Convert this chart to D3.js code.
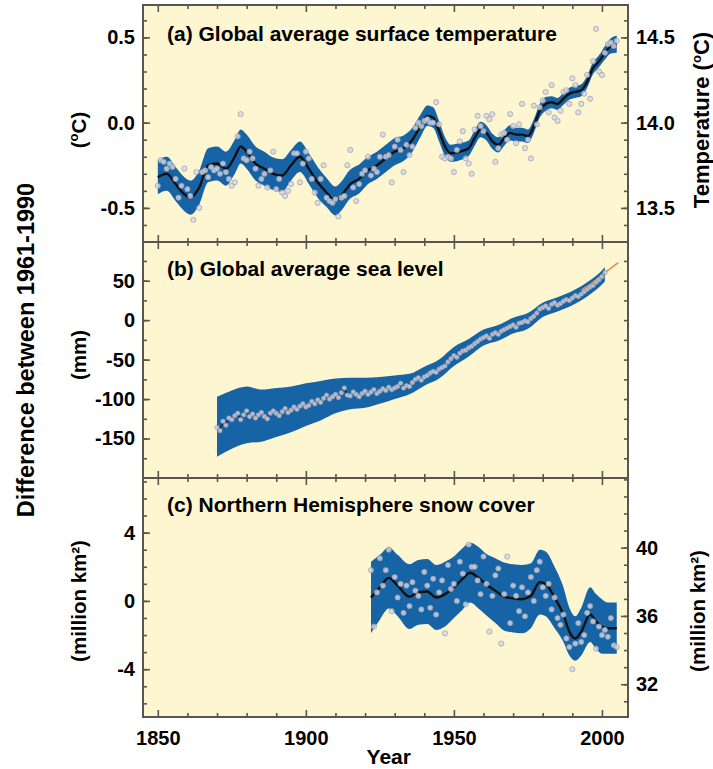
<!DOCTYPE html>
<html>
<head>
<meta charset="utf-8">
<script src="https://cdn.jsdelivr.net/npm/d3@7"></script>
<style>
  body { margin: 0; background: #fff; }
  text { font-family: "Liberation Sans", Arial, sans-serif; font-weight: bold; fill: #000; }
</style>
</head>
<body>
<svg id="chart" width="713" height="769"></svg>
<script>
// ---- data ----

// (a) global average surface temperature, annual anomalies 1850-2005 (degC)
var tempStart = 1850;
var tempAnnual = [
  -0.37,-0.22,-0.23,-0.27,-0.24,-0.26,-0.33,-0.44,-0.37,-0.27,
  -0.39,-0.43,-0.57,-0.29,-0.50,-0.29,-0.28,-0.32,-0.26,-0.28,
  -0.27,-0.30,-0.24,-0.29,-0.33,-0.37,-0.35,-0.08, 0.05,-0.21,
  -0.22,-0.17,-0.21,-0.27,-0.37,-0.33,-0.30,-0.38,-0.28,-0.17,
  -0.39,-0.33,-0.41,-0.43,-0.40,-0.36,-0.18,-0.18,-0.35,-0.24,
  -0.17,-0.21,-0.33,-0.41,-0.47,-0.33,-0.25,-0.44,-0.46,-0.47,
  -0.45,-0.55,-0.44,-0.43,-0.25,-0.16,-0.38,-0.46,-0.36,-0.30,
  -0.28,-0.20,-0.31,-0.27,-0.29,-0.20,-0.07,-0.20,-0.19,-0.35,
  -0.14,-0.10,-0.16,-0.29,-0.13,-0.19,-0.14,-0.03, 0.00,-0.02,
   0.01, 0.02, 0.00, 0.00, 0.12,-0.01,-0.20,-0.21,-0.20,-0.21,
  -0.29,-0.16,-0.11,-0.05,-0.21,-0.24,-0.30,-0.04, 0.04,-0.02,
  -0.05, 0.04, 0.02, 0.05,-0.23,-0.15,-0.07,-0.06,-0.10, 0.05,
  -0.02,-0.12,-0.01, 0.11,-0.15,-0.10,-0.21, 0.10,-0.01, 0.09,
   0.13, 0.18, 0.06, 0.22, 0.03, 0.01, 0.07, 0.18, 0.19, 0.11,
   0.26, 0.22, 0.06, 0.11, 0.17, 0.28, 0.14, 0.36, 0.55, 0.30,
   0.28, 0.41, 0.46, 0.47, 0.45, 0.48
];
// decadal smooth and half width of the uncertainty band
var tempSmoothYears = [1850,1853,1856,1859,1861,1864,1867,1870,1873,1876,
  1878,1880,1883,1886,1889,1892,1895,1898,1901,1904,1907,1910,1912,1915,1918,
  1921,1924,1927,1930,1933,1936,1939,1941,1943,1945,1947,1949,1952,1955,1957,
  1959,1961,1963,1965,1967,1969,1971,1973,1975,1977,1979,1981,1983,1985,1987,
  1989,1991,1993,1995,1997,1999,2001,2003,2005];
var tempSmooth = [-0.32,-0.30,-0.36,-0.42,-0.44,-0.38,-0.25,-0.24,-0.27,-0.20,
  -0.14,-0.17,-0.24,-0.27,-0.30,-0.31,-0.25,-0.20,-0.27,-0.35,
  -0.41,-0.46,-0.43,-0.36,-0.33,-0.28,-0.25,-0.21,-0.17,-0.15,
  -0.10,-0.01, 0.04, 0.03,-0.05,-0.14,-0.18,-0.17,-0.15,-0.09,
  -0.04,-0.06,-0.11,-0.13,-0.09,-0.06,-0.07,-0.07,-0.08,-0.02,
   0.07, 0.11, 0.12, 0.11, 0.14, 0.17, 0.18, 0.19, 0.24, 0.32,
   0.36, 0.41, 0.45, 0.46];
var tempBand = [0.10,0.10,0.10,0.10,0.10,0.10,0.10,0.10,0.10,0.10,
  0.10,0.10,0.10,0.10,0.095,0.095,0.09,0.09,0.09,0.09,
  0.085,0.085,0.085,0.085,0.085,0.08,0.08,0.08,0.08,0.075,
  0.07,0.065,0.06,0.06,0.06,0.055,0.05,0.05,0.045,0.045,
  0.045,0.045,0.045,0.045,0.045,0.045,0.04,0.04,0.04,0.04,
  0.04,0.04,0.035,0.035,0.035,0.035,0.035,0.035,0.035,0.035,
  0.035,0.04,0.045,0.05];

// (b) global average sea level, annual 1870-2001 (mm)
var seaStart = 1870;
var seaAnnual = [
  -136,-140,-128,-133,-124,-126,-121,-118,-126,-120,
  -115,-122,-119,-124,-120,-117,-122,-125,-118,-115,
  -118,-121,-116,-112,-117,-114,-110,-113,-109,-106,
  -110,-108,-103,-106,-101,-104, -99, -95,-100, -97,
   -94, -98, -92, -86, -95, -96, -91, -94, -97, -93,
   -90, -94, -91, -88, -93, -90, -87, -89, -85, -88,
   -86, -84, -80, -86, -83, -84, -79, -75, -73, -76,
   -72, -70, -67, -65, -66, -62, -60, -58, -53, -49,
   -45, -47, -42, -39, -38, -35, -33, -30, -27, -24,
   -22, -20, -23, -18, -16, -18, -14, -12, -10,  -8,
    -6,  -9,  -4,  -3,  -1,  -2,   2,   5,   9,  14,
    16,  18,  15,  20,  22,  19,  21,  24,  26,  25,
    28,  31,  30,  33,  36,  39,  42,  44,  48,  51,
    55,  60
];
var seaSmoothYears = [1870,1875,1880,1885,1890,1895,1900,1905,1910,1915,1920,
  1925,1930,1935,1940,1945,1950,1955,1960,1965,1970,1975,1980,1985,1990,1995,2000,2001];
var seaSmooth = [-135,-126,-120,-121,-117,-113,-107,-102,-96,-93,-92,
  -89,-85,-81,-71,-62,-46,-35,-22,-16,-7,-1,13,20,28,39,54,58];
var seaBand = [38,37,36,33,31,29,27,25,22,20,19,
  17,15,13,12,12,12,11,10,10,10,10,9,9,9,9,9,9];
// satellite altimetry (orange)
var seaSatYears = [1993,1996,1999,2002,2005.5];
var seaSat = [38,45,54,63,73];

// (c) Northern Hemisphere snow cover, annual 1922-2005 (million km2 anomaly)
var snowStart = 1922;
var snowAnnual = [
   1.8,-1.5, 0.5, 2.5, 0.9, 1.8, 3.0,-0.6, 1.4, 0.2,
   1.0,-0.7, 0.9,-0.3, 1.1, 0.6, 0.3,-0.5, 1.7, 0.9,
  -0.4, 1.3,-0.8, 0.5, 1.2,-1.9, 2.1, 0.7, 1.0, 0.0,
   2.3, 1.6,-0.2, 3.3, 2.0, 2.0, 1.2, 0.4, 2.6, 1.0,
  -1.8, 0.3, 1.5, 1.9,-2.5, 0.4, 2.6,-1.3, 0.9, 0.3,
  -0.6, 0.8,-0.9, 0.5, 1.4, 0.0, 1.8, 2.3, 0.8, 0.3,
   1.0,-0.5, 0.2,-1.0,-1.4,-0.8,-2.2,-2.7,-4.0,-2.5,
  -1.3,-2.4,-2.0,-0.7,-0.3,-1.2,-2.8,-1.5,-2.0,-1.7,
  -2.1,-1.0,-2.6,-2.7
];
var snowSmoothYears = [1922,1925,1928,1931,1935,1938,1941,1944,1947,1950,
  1953,1955.5,1958,1961,1964,1967,1970,1973,1976,1979,
  1981,1984,1987,1989,1991,1993,1996,1998,2000,2002,2005];
var snowSmooth = [0.2,0.8,1.35,0.9,0.25,0.5,0.55,0.2,0.4,0.8,
  1.3,1.65,1.4,0.95,0.6,0.25,0.15,0.1,0.3,1.1,
  1.0,0.2,-0.8,-1.8,-2.2,-1.8,-0.8,-1.2,-1.5,-1.6,-1.6];
var snowBand = [2.1,1.9,1.8,1.8,1.9,1.9,1.9,1.9,1.9,1.8,
  1.8,1.75,1.8,1.8,1.9,2.0,2.0,2.0,1.9,1.9,
  1.9,1.8,1.6,1.4,1.3,1.4,1.6,1.6,1.6,1.5,1.5];

// tick values
var xMajorTicks = [1850, 1900, 1950, 2000];
var xMinorTicks = [1860,1870,1880,1890,1910,1920,1930,1940,1960,1970,1980,1990];
var tempTicks = [-0.5, 0.0, 0.5];
var tempRightTicks = [13.5, 14.0, 14.5];
var seaTicks = [-150, -100, -50, 0, 50];
var snowTicks = [-4, 0, 4];
var snowRightTicks = [32, 36, 40];

// ---- drawing ----
var BG = "#fdf6d1", BLUE = "#1664a6", FRAME = "#5a5550";
var svg = d3.select("#chart");
var x = d3.scaleLinear().domain([1845, 2008.8]).range([143, 628]);
var left = x.range()[0], right = x.range()[1];

function yearsFrom(start, values) {
  return values.map(function (v, i) { return {yr: start + i, v: v}; });
}

// draws one panel: background, band, smooth line and annual dots
function drawPanel(p) {
  var y = d3.scaleLinear().domain(p.domain).range([p.bottom, p.top]);
  var g = svg.append("g").attr("class", "panel-" + p.name);

  svg.append("clipPath").attr("id", "clip-" + p.name)
    .append("rect")
    .attr("x", left).attr("y", p.top)
    .attr("width", right - left).attr("height", p.bottom - p.top);

  g.append("rect")
    .attr("x", left).attr("y", p.top)
    .attr("width", right - left).attr("height", p.bottom - p.top)
    .attr("fill", BG);

  var inner = g.append("g").attr("clip-path", "url(#clip-" + p.name + ")");

  var band = p.smoothYears.map(function (yr, i) {
    return {yr: yr, v: p.smooth[i], hw: p.band[i]};
  });
  inner.append("path").datum(band)
    .attr("d", d3.area().curve(d3.curveMonotoneX)
      .x(function (d) { return x(d.yr); })
      .y0(function (d) { return y(d.v - d.hw); })
      .y1(function (d) { return y(d.v + d.hw); }))
    .attr("fill", BLUE);

  if (p.extra) p.extra(inner, y);

  var pts = yearsFrom(p.start, p.annual);

  if (p.annualLine) {
    inner.append("path").datum(pts)
      .attr("d", d3.line().curve(d3.curveBasis)
        .x(function (d) { return x(d.yr); })
        .y(function (d) { return y(d.v); }))
      .attr("fill", "none").attr("stroke", "#222").attr("stroke-width", 1.4);
  } else {
    inner.append("path").datum(band)
      .attr("d", d3.line().curve(d3.curveMonotoneX)
        .x(function (d) { return x(d.yr); })
        .y(function (d) { return y(d.v); }))
      .attr("fill", "none").attr("stroke", "#111").attr("stroke-width", 2.4);
  }

  inner.selectAll(".dot").data(pts).enter()
    .append("circle")
    .attr("class", "dot")
    .attr("cx", function (d) { return x(d.yr); })
    .attr("cy", function (d) { return y(d.v); })
    .attr("r", p.r || 2.6)
    .attr("fill", "#d6d8e4").attr("fill-opacity", 0.8)
    .attr("stroke", "#9a9aae").attr("stroke-width", 0.7);

  return {g: g, y: y};
}

// ticks along the frame, all pointing inwards
function addTicks(g, axis, pos, values, size, fmt) {
  var a = axis.tickValues(values).tickSize(-size).tickPadding(8)
    .tickFormat(fmt || "");
  var ag = g.append("g").attr("transform", pos).call(a);
  ag.select(".domain").remove();
  ag.selectAll("line").attr("stroke", FRAME).attr("stroke-width", 1.6);
  ag.selectAll("text").style("font-size", "20px").attr("fill", "#000");
  return ag;
}

function minorRange(lo, hi, step) {
  var out = [];
  for (var v = lo; v <= hi + 1e-9; v += step) out.push(+v.toFixed(4));
  return out;
}

function frameAndXTicks(g, p, labels) {
  addTicks(g, d3.axisTop(x), "translate(0," + p.top + ")", xMajorTicks, 7);
  addTicks(g, d3.axisTop(x), "translate(0," + p.top + ")", xMinorTicks, 4);
  addTicks(g, d3.axisBottom(x), "translate(0," + p.bottom + ")", xMinorTicks, 4);
  var b = addTicks(g, d3.axisBottom(x), "translate(0," + p.bottom + ")", xMajorTicks, 7,
    labels ? function (d) { return d; } : "");
  if (labels) b.selectAll("text").attr("dy", "1.0em");
}

var fmt1 = function (d) { return d.toFixed(1); };
var fmt0 = function (d) { return String(d); };

// panel (a)
var pa = {name: "a", top: 5, bottom: 242, domain: [-0.7, 0.69],
  start: tempStart, annual: tempAnnual,
  smoothYears: tempSmoothYears, smooth: tempSmooth, band: tempBand};
var A = drawPanel(pa);
var yTempR = d3.scaleLinear().domain([13.3, 14.69]).range([pa.bottom, pa.top]);
addTicks(A.g, d3.axisLeft(A.y), "translate(" + left + ",0)", minorRange(-0.6, 0.6, 0.1), 4);
addTicks(A.g, d3.axisLeft(A.y), "translate(" + left + ",0)", tempTicks, 7, fmt1);
addTicks(A.g, d3.axisRight(yTempR), "translate(" + right + ",0)", minorRange(13.4, 14.6, 0.1), 4);
addTicks(A.g, d3.axisRight(yTempR), "translate(" + right + ",0)", tempRightTicks, 7, fmt1);

// panel (b)
var pb = {name: "b", top: 242, bottom: 478, domain: [-200, 99],
  start: seaStart, annual: seaAnnual, annualLine: true, r: 2.2,
  smoothYears: seaSmoothYears, smooth: seaSmooth, band: seaBand,
  extra: function (inner, y) {
    inner.append("path")
      .datum(seaSatYears.map(function (yr, i) { return {yr: yr, v: seaSat[i]}; }))
      .attr("d", d3.line().x(function (d) { return x(d.yr); }).y(function (d) { return y(d.v); }))
      .attr("fill", "none").attr("stroke", "#f08a55").attr("stroke-width", 1.6);
  }};
var B = drawPanel(pb);
addTicks(B.g, d3.axisLeft(B.y), "translate(" + left + ",0)", minorRange(-175, 75, 25), 4);
addTicks(B.g, d3.axisLeft(B.y), "translate(" + left + ",0)", seaTicks, 7, fmt0);
addTicks(B.g, d3.axisRight(B.y), "translate(" + right + ",0)", minorRange(-175, 75, 25), 4);

// panel (c)
var pc = {name: "c", top: 478, bottom: 717, domain: [-6.8, 7.2],
  start: snowStart, annual: snowAnnual,
  smoothYears: snowSmoothYears, smooth: snowSmooth, band: snowBand};
var C = drawPanel(pc);
var ySnowR = d3.scaleLinear().domain([30.08, 44.08]).range([pc.bottom, pc.top]);
addTicks(C.g, d3.axisLeft(C.y), "translate(" + left + ",0)", minorRange(-6, 7, 1), 4);
addTicks(C.g, d3.axisLeft(C.y), "translate(" + left + ",0)", snowTicks, 7, fmt0);
addTicks(C.g, d3.axisRight(ySnowR), "translate(" + right + ",0)", minorRange(31, 44, 1), 4);
addTicks(C.g, d3.axisRight(ySnowR), "translate(" + right + ",0)", snowRightTicks, 7, fmt0);

frameAndXTicks(A.g, pa, false);
frameAndXTicks(B.g, pb, false);
frameAndXTicks(C.g, pc, true);

// outer frame
[pa, pb, pc].forEach(function (p) {
  svg.append("rect")
    .attr("x", left).attr("y", p.top)
    .attr("width", right - left).attr("height", p.bottom - p.top)
    .attr("fill", "none").attr("stroke", FRAME).attr("stroke-width", 2);
});

// panel titles
var titles = ["(a) Global average surface temperature", "(b) Global average sea level",
  "(c) Northern Hemisphere snow cover"];
var titleY = [41, 276, 512];
titles.forEach(function (t, i) {
  svg.append("text").attr("x", 167).attr("y", titleY[i])
    .style("font-size", "21px").text(t);
});

// rotated axis labels
function vLabel(cx, cy, size, build) {
  var t = svg.append("text")
    .attr("transform", "translate(" + cx + "," + cy + ") rotate(-90)")
    .attr("text-anchor", "middle").style("font-size", size + "px");
  build(t);
  return t;
}
function degC(t, prefix) {
  t.append("tspan").text(prefix + "(");
  t.append("tspan").text("o").style("font-size", "13px").attr("dy", -8);
  t.append("tspan").text("C)").attr("dy", 8);
}
vLabel(34, 350, 23.5, function (t) { t.text("Difference between 1961-1990"); });
vLabel(86, 130, 20.5, function (t) { degC(t, ""); });
vLabel(86, 355, 20.5, function (t) { t.text("(mm)"); });
vLabel(86, 601, 20.5, function (t) { t.text("(million km²)"); });
vLabel(709, 120, 22, function (t) { degC(t, "Temperature "); });
vLabel(705, 611, 20.5, function (t) { t.text("(million km²)"); });

svg.append("text").attr("x", x(1928)).attr("y", 764)
  .attr("text-anchor", "middle").style("font-size", "21px").text("Year");
</script>
</body>
</html>
